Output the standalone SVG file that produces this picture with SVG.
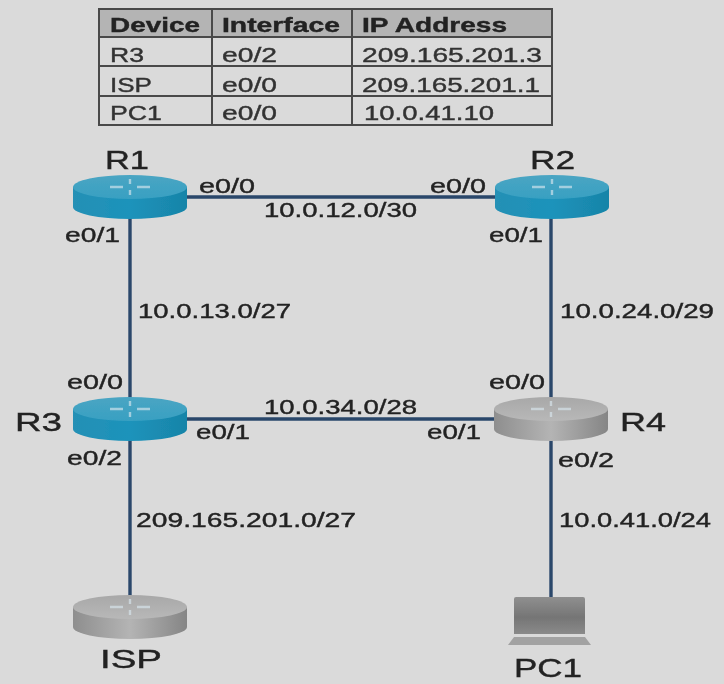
<svg xmlns="http://www.w3.org/2000/svg" width="724" height="684" viewBox="0 0 724 684">
<style>
text{font-family:"Liberation Sans",Arial,sans-serif;fill:#222;stroke:#222;stroke-width:.4px;font-size:20.5px}
.nm{font-size:26px}
.tb{fill:#333;stroke:#333}
.th{font-weight:bold}
.grid{stroke:#4a4a4a;stroke-width:2;fill:none}
.link{stroke:#2a466b;stroke-width:3.4;fill:none}
.soft{filter:url(#soft)}
</style>
<defs>
<filter id="soft" x="-5%" y="-5%" width="110%" height="110%"><feGaussianBlur stdDeviation="0.7"/></filter>
<linearGradient id="bb" x1="0" x2="1" y1="0" y2="0"><stop offset="0" stop-color="#2590b5"/><stop offset=".5" stop-color="#1c93bb"/><stop offset="1" stop-color="#1884a8"/></linearGradient>
<linearGradient id="bt" x1="0" x2="0" y1="0" y2="1"><stop offset="0" stop-color="#4aa5c3"/><stop offset="1" stop-color="#38a0c2"/></linearGradient>
<linearGradient id="gb" x1="0" x2="1" y1="0" y2="0"><stop offset="0" stop-color="#8e8e8e"/><stop offset=".5" stop-color="#b4b4b4"/><stop offset="1" stop-color="#858585"/></linearGradient>
<linearGradient id="gt" x1="0" x2="0" y1="0" y2="1"><stop offset="0" stop-color="#a8a8a8"/><stop offset="1" stop-color="#b8b8b8"/></linearGradient>
<linearGradient id="sc" x1="0" x2="0" y1="0" y2="1"><stop offset="0" stop-color="#8f8f8f"/><stop offset=".55" stop-color="#757575"/><stop offset="1" stop-color="#8a8a8a"/></linearGradient>
<g id="arrows" fill="none" stroke="#d8e6ee" stroke-opacity=".65" stroke-width="2.4">
<path d="M-20 0H-7M7 0H20M0-8V-3M0 3V8"/>
</g>
<g id="routerB">
<path d="M-57 -10V10A57 12 0 0 0 57 10V-10Z" fill="url(#bb)"/>
<ellipse cx="0" cy="-10" rx="57" ry="12" fill="url(#bt)"/>
<use href="#arrows" y="-10"/>
</g>
<g id="routerG">
<path d="M-57 -10V10A57 12 0 0 0 57 10V-10Z" fill="url(#gb)"/>
<ellipse cx="0" cy="-10" rx="57" ry="12" fill="url(#gt)"/>
<use href="#arrows" y="-10"/>
</g>
</defs>
<rect width="724" height="684" fill="#dadada"/>
<g class="soft">
<g id="table">
<rect x="99" y="9" width="453" height="28" fill="#b4b4b4"/>
<rect x="99" y="9" width="453" height="116" class="grid"/>
<path class="grid" d="M99 37H552M99 66H552M99 96H552M212 9V125M352 9V125"/>
<text class="th" x="110" y="32" textLength="90" lengthAdjust="spacingAndGlyphs">Device</text>
<text class="th" x="222" y="32" textLength="118" lengthAdjust="spacingAndGlyphs">Interface</text>
<text class="th" x="362" y="32" textLength="145" lengthAdjust="spacingAndGlyphs">IP Address</text>
<text class="tb" x="110" y="62" textLength="34" lengthAdjust="spacingAndGlyphs">R3</text>
<text class="tb" x="222" y="62" textLength="55" lengthAdjust="spacingAndGlyphs">e0/2</text>
<text class="tb" x="362" y="62" textLength="180" lengthAdjust="spacingAndGlyphs">209.165.201.3</text>
<text class="tb" x="110" y="92" textLength="42" lengthAdjust="spacingAndGlyphs">ISP</text>
<text class="tb" x="222" y="92" textLength="55" lengthAdjust="spacingAndGlyphs">e0/0</text>
<text class="tb" x="362" y="92" textLength="178" lengthAdjust="spacingAndGlyphs">209.165.201.1</text>
<text class="tb" x="110" y="120" textLength="52" lengthAdjust="spacingAndGlyphs">PC1</text>
<text class="tb" x="222" y="120" textLength="55" lengthAdjust="spacingAndGlyphs">e0/0</text>
<text class="tb" x="364" y="120" textLength="130" lengthAdjust="spacingAndGlyphs">10.0.41.10</text>
</g>
<g id="connectors">
<path class="link" d="M130 197H552"/>
<path class="link" d="M130 197V600"/>
<path class="link" d="M551 197V597"/>
<path class="link" d="M130 419H551"/>
</g>
<g id="R1"><use href="#routerB" x="130" y="197"/><text class="nm" x="105" y="169" textLength="44" lengthAdjust="spacingAndGlyphs">R1</text></g>
<g id="R2"><use href="#routerB" x="552" y="197"/><text class="nm" x="530" y="169" textLength="45" lengthAdjust="spacingAndGlyphs">R2</text></g>
<g id="R3"><use href="#routerB" x="130" y="419"/><text class="nm" x="15" y="431" textLength="47" lengthAdjust="spacingAndGlyphs">R3</text></g>
<g id="R4"><use href="#routerG" x="551" y="419"/><text class="nm" x="620" y="431" textLength="46" lengthAdjust="spacingAndGlyphs">R4</text></g>
<g id="ISP"><use href="#routerG" x="130" y="617"/><text class="nm" x="100" y="668" textLength="62" lengthAdjust="spacingAndGlyphs">ISP</text></g>
<g id="PC1">
<path d="M516 597H583Q585 597 585 599V634H514V599Q514 597 516 597Z" fill="url(#sc)"/>
<path d="M514 637H585L591 645H508Z" fill="#a2a2a2"/>
<text class="nm" x="514" y="677" textLength="68" lengthAdjust="spacingAndGlyphs">PC1</text>
</g>
<g id="labels">
<text x="199" y="193" textLength="56" lengthAdjust="spacingAndGlyphs">e0/0</text>
<text x="430" y="193" textLength="56" lengthAdjust="spacingAndGlyphs">e0/0</text>
<text x="264" y="217" textLength="153" lengthAdjust="spacingAndGlyphs">10.0.12.0/30</text>
<text x="65" y="242" textLength="55" lengthAdjust="spacingAndGlyphs">e0/1</text>
<text x="489" y="242" textLength="54" lengthAdjust="spacingAndGlyphs">e0/1</text>
<text x="138" y="318" textLength="153" lengthAdjust="spacingAndGlyphs">10.0.13.0/27</text>
<text x="560" y="318" textLength="154" lengthAdjust="spacingAndGlyphs">10.0.24.0/29</text>
<text x="67" y="389" textLength="56" lengthAdjust="spacingAndGlyphs">e0/0</text>
<text x="489" y="389" textLength="56" lengthAdjust="spacingAndGlyphs">e0/0</text>
<text x="264" y="414" textLength="153" lengthAdjust="spacingAndGlyphs">10.0.34.0/28</text>
<text x="196" y="439" textLength="54" lengthAdjust="spacingAndGlyphs">e0/1</text>
<text x="427" y="439" textLength="54" lengthAdjust="spacingAndGlyphs">e0/1</text>
<text x="67" y="465" textLength="55" lengthAdjust="spacingAndGlyphs">e0/2</text>
<text x="558" y="467" textLength="56" lengthAdjust="spacingAndGlyphs">e0/2</text>
<text x="136" y="527" textLength="220" lengthAdjust="spacingAndGlyphs">209.165.201.0/27</text>
<text x="559" y="527" textLength="152" lengthAdjust="spacingAndGlyphs">10.0.41.0/24</text>
</g>
</g>
</svg>
